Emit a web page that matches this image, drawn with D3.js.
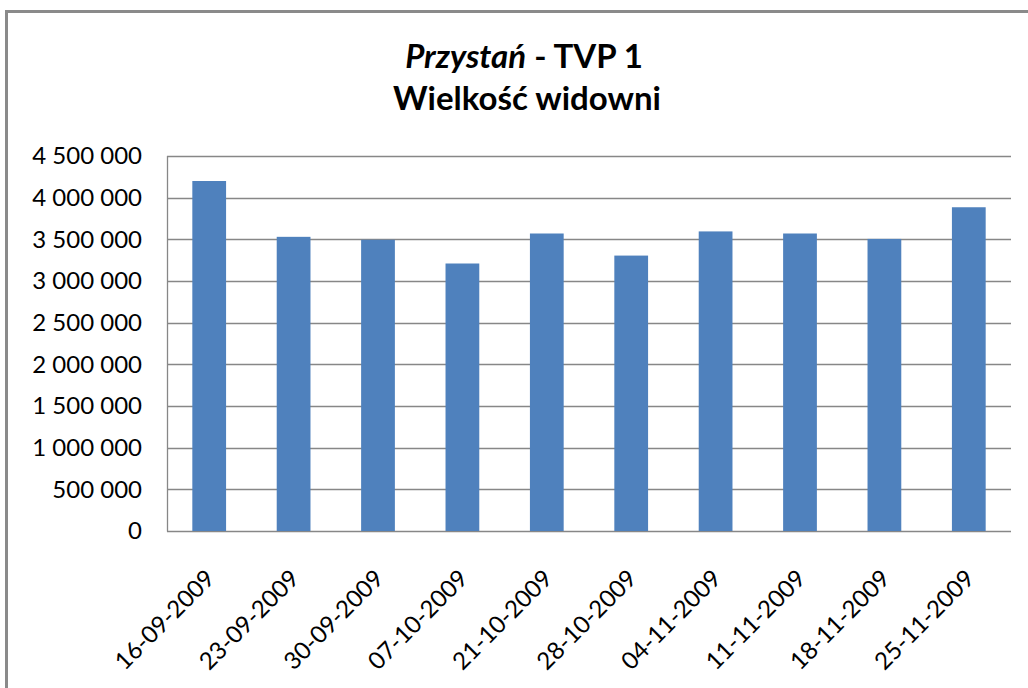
<!DOCTYPE html>
<html>
<head>
<meta charset="utf-8">
<script src="https://cdn.jsdelivr.net/npm/d3@7"></script>
<style>
  html, body { margin: 0; padding: 0; background: #fff; }
  svg { display: block; font-family: Lato, "Noto Sans", sans-serif; }
</style>
</head>
<body>
<div id="chart"></div>
<script>
const dates = ['16-09-2009', '23-09-2009', '30-09-2009', '07-10-2009', '21-10-2009',
               '28-10-2009', '04-11-2009', '11-11-2009', '18-11-2009', '25-11-2009'];
const viewers = [4200000, 3530000, 3495000, 3210000, 3570000,
                 3305000, 3595000, 3570000, 3505000, 3885000];
const yTicks = [0, 500000, 1000000, 1500000, 2000000, 2500000, 3000000, 3500000, 4000000, 4500000];

const width = 1028, height = 688;
const margin = { top: 156, right: 17, bottom: 157, left: 167 };

const svg = d3.select('#chart')
    .append('svg')
    .attr('width', width)
    .attr('height', height);

// outer chart frame (only top and left edges are visible in the picture)
svg.append('path')
    .attr('d', `M6.5,${height + 5} V11.5 H${width + 5}`)
    .attr('fill', 'none')
    .attr('stroke', '#8a8a8a')
    .attr('stroke-width', 3);

const x = d3.scaleBand()
    .domain(dates)
    .range([margin.left, width - margin.right])
    .paddingInner(0.6)
    .paddingOuter(0.3);

const y = d3.scaleLinear()
    .domain([0, 4500000])
    .range([height - margin.bottom, margin.top]);

const fmt = v => d3.format(',')(v).replace(/,/g, ' ');

// gridlines
svg.append('g')
    .selectAll('line')
    .data(yTicks)
    .enter()
    .append('line')
    .attr('x1', margin.left)
    .attr('x2', width - margin.right)
    .attr('y1', d => Math.round(y(d)) + 0.5)
    .attr('y2', d => Math.round(y(d)) + 0.5)
    .attr('stroke', '#878787')
    .attr('stroke-width', 1.3);

// left edge of the plot area
svg.append('line')
    .attr('x1', margin.left + 0.5)
    .attr('x2', margin.left + 0.5)
    .attr('y1', y(4500000))
    .attr('y2', y(0) + 0.5)
    .attr('stroke', '#878787')
    .attr('stroke-width', 1.3);

// bars
svg.append('g')
    .selectAll('rect')
    .data(dates)
    .enter()
    .append('rect')
    .attr('x', d => x(d))
    .attr('width', x.bandwidth())
    .attr('y', (d, i) => y(viewers[i]))
    .attr('height', (d, i) => y(0) - y(viewers[i]))
    .attr('fill', '#4f81bd');

// y axis
const yAxis = svg.append('g')
    .attr('transform', `translate(${margin.left},0)`)
    .call(d3.axisLeft(y).tickValues(yTicks).tickFormat(fmt).tickSize(0).tickPadding(25));
yAxis.select('.domain').remove();
yAxis.selectAll('text')
    .style('font-size', '24px')
    .style('font-family', 'Lato, "Noto Sans", sans-serif')
    .attr('fill', '#000');

// x axis
const xAxis = svg.append('g')
    .attr('transform', `translate(0,${y(0)})`)
    .call(d3.axisBottom(x).tickSize(0));
xAxis.select('.domain').remove();
xAxis.selectAll('text')
    .style('font-size', '24px')
    .style('font-family', 'Lato, "Noto Sans", sans-serif')
    .attr('fill', '#000')
    .attr('text-anchor', 'end')
    .attr('dy', 0)
    .attr('y', 0)
    .attr('transform', 'translate(7,49) rotate(-45)');

// title
const title = svg.append('text')
    .attr('x', 524)
    .attr('y', 68)
    .attr('text-anchor', 'middle')
    .style('font-size', '33px')
    .style('font-weight', 'bold');
title.append('tspan').style('font-style', 'italic').text('Przystań');
title.append('tspan').text(' - TVP 1');

svg.append('text')
    .attr('x', 527)
    .attr('y', 110)
    .attr('text-anchor', 'middle')
    .style('font-size', '33px')
    .style('font-weight', 'bold')
    .text('Wielkość widowni');
</script>
</body>
</html>
